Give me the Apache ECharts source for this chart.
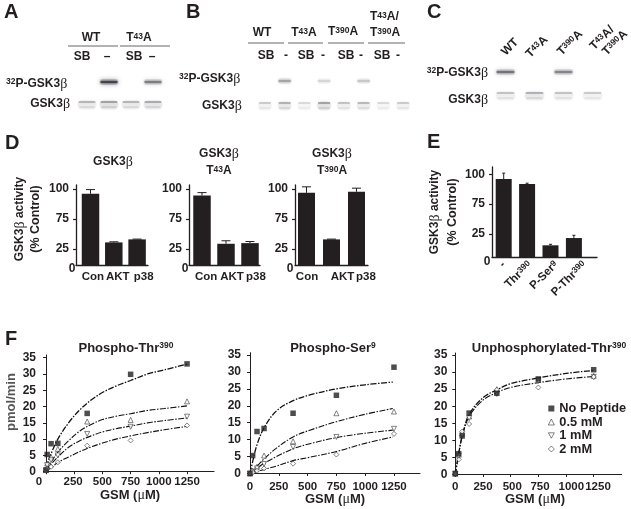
<!DOCTYPE html>
<html><head><meta charset="utf-8">
<style>html,body{margin:0;padding:0;background:#fff}#c{width:631px;height:509px}</style>
<script src="https://cdn.jsdelivr.net/npm/echarts@6/dist/echarts.min.js"></script>
</head><body><div id="c"></div>
<script>
// ---------- data ----------
const blotRows = ['32P-GSK3β', 'GSK3β'];
const blotALanes = ['WT SB', 'WT -', 'T43A SB', 'T43A -'];
const blotAPhospho = [0, 0.95, 0, 0.6];
const blotATotal = [0.4, 0.5, 0.4, 0.45];
const blotBLanes = ['WT SB', 'WT -', 'T43A SB', 'T43A -', 'T390A SB', 'T390A -', 'DM SB', 'DM -'];
const blotBPhospho = [0, 0.4, 0, 0.18, 0, 0.25, 0, 0];
const blotBTotal = [0.28, 0.42, 0.2, 0.5, 0.32, 0.38, 0.2, 0.28];
const blotCLanes = ['WT', 'T43A', 'T390A', 'T43A/T390A'];
const blotCPhospho = [0.65, 0, 0.55, 0];
const blotCTotal = [0.32, 0.42, 0.32, 0.28];

const activityCats = ['Con', 'AKT', 'p38'];
const gskValues = [96, 36, 41];
const gskErrors = [3.5, 1, 0.5];
const t43Values = [94.5, 33.7, 34.8];
const t43Errors = [2.5, 5, 2.7];
const t390Values = [96.8, 41, 97.7];
const t390Errors = [5, 0.5, 3];
const peptideCats = ['-', 'Thr|390', 'P-Ser|9', 'P-Thr|390'];
const peptideValues = [96, 91.8, 12.7, 20.6];
const peptideErrors = [5, 0.7, 1.1, 3];
const activityTicks = [25, 75, 100];

const fTicksY = [0, 5, 10, 15, 20, 25, 30, 35];
const fTicksX = [0, 250, 500, 750, 1000, 1250];
const seriesNames = ['No Peptide', '0.5 mM', '1 mM', '2 mM'];

const thrX = [0, 10, 45, 105, 365, 750, 1250];
const thrPts = [
  [0.5, 5.3, 8.6, 8.7, 17.9, 29.9, 33.1],
  [0.5, 2.5, 4.5, 7, 15.4, 15.9, 21.6],
  [0.4, 2, 3.5, 5, 11.6, 13.8, 16.9],
  [0.3, 0.9, 1.5, 2.9, 8, 9.6, 14.2]];
const thrCurveX = [0, 15, 45, 105, 200, 300, 400, 500, 620, 750, 900, 1050, 1250];
const thrCurves = [
  [0.5, 2.5, 5.5, 10, 15, 19, 22, 24.3, 26.3, 28, 30, 31.3, 33],
  [0.3, 1.3, 3, 6, 9.5, 12.5, 14.5, 16, 17, 17.8, 18.8, 19.4, 20.2],
  [0.2, 1, 2.3, 4.5, 7.5, 9.5, 11, 12.2, 13.2, 14, 15, 15.7, 16.5],
  [0.1, 0.5, 1.2, 2.8, 4.5, 6.2, 7.6, 8.8, 10, 11, 12, 12.9, 13.9]];

const serX = [0, 23, 61, 122, 374, 750, 1250];
const serPts = [
  [0, 5.3, 12.4, 13.3, 17.8, 23.1, 31.4],
  [0, 0.8, 2, 5.3, 9.5, 17.8, 18.3],
  [0, 0.5, 1.5, 2.8, 7.8, 10.8, 13.2],
  [0, 0.3, 0.8, 1.5, 2.9, 5.6, 11.7]];
const serCurveX = [0, 23, 61, 122, 230, 374, 520, 750, 1000, 1240];
const serCurves = [
  [0, 3.5, 8.5, 13.5, 18.5, 21.5, 23.2, 25, 26.2, 27],
  [0, 0.9, 2.2, 4.3, 7.5, 10.8, 12.8, 15.3, 17.5, 19.2],
  [0, 0.6, 1.5, 3, 5, 7.3, 8.8, 10.6, 11.9, 12.8],
  [0, 0.2, 0.6, 1.2, 2.2, 3.8, 4.8, 6.5, 8.9, 10.8]];

const unpX = [0, 31, 62, 125, 375, 750, 1250];
const unpPts = [
  [0.3, 6.1, 11.3, 18, 23.8, 28, 30.7],
  [0.2, 5.8, 12, 17, 25, 27.7, 28.9],
  [0.2, 5.5, 11.5, 16.5, 23.6, 27.5, 28.6],
  [0.2, 4.4, 12.6, 14.8, 24.8, 25.5, 28.6]];
const unpCurveX = [0, 31, 62, 125, 250, 375, 500, 750, 1000, 1250];
const unpCurves = [
  [0, 6.3, 11.3, 17.6, 22.5, 24.8, 26.6, 28.3, 29.6, 30.5],
  null, null,
  [0, 6, 11, 17, 21.8, 24, 25.5, 26.9, 28, 28.7]];

// ---------- helpers ----------
const INK = '#231f20', FONT = '"Liberation Sans", Arial, sans-serif';
const rich = {
  sup: {fontFamily: FONT, fontWeight: 'bold', fontSize: 8.5, color: INK, verticalAlign: 'top', lineHeight: 9},
  b: {fontFamily: '"Liberation Serif", serif', fontWeight: 'normal', fontSize: 14, color: '#333'}
};
const grids = [], xAxes = [], yAxes = [], series = [], graphic = [];

function txt(x, y, s, o) {
  o = o || {};
  graphic.push({type: 'text', x, y, rotation: o.rot || 0, silent: true, style: {
    text: s, align: o.align || 'center', verticalAlign: 'middle',
    fontFamily: FONT, fontWeight: 'bold', fontSize: o.size || 12, fill: o.fill || INK, rich
  }});
}
function rule(x1, x2, y) {
  graphic.push({type: 'line', silent: true, shape: {x1, y1: y, x2, y2: y}, style: {stroke: '#666', lineWidth: 1}});
}

function blot(left, top, width, height, lanes, up, low, bw) {
  const g = grids.length;
  grids.push({left, top, width, height, outerBoundsMode: 'none'});
  xAxes.push({gridIndex: g, type: 'category', data: lanes, show: false});
  yAxes.push({gridIndex: g, type: 'category', data: blotRows, show: false, inverse: true});
  const data = [];
  up.forEach((v, i) => v && data.push([i, 0, v]));
  low.forEach((v, i) => v && data.push([i, 1, v]));
  series.push({
    type: 'custom', xAxisIndex: g, yAxisIndex: g, data, clip: false, silent: true,
    renderItem(params, api) {
      const p = api.coord([api.value(0), api.value(1)]), v = api.value(2);
      const band = (dy, h, w, a, blur) => ({type: 'rect',
        shape: {x: p[0] - w / 2, y: p[1] + dy - h / 2, width: w, height: h, r: h / 2},
        style: {fill: `rgba(35,35,45,${a})`, shadowBlur: blur, shadowColor: `rgba(35,35,45,${Math.min(1, a * 1.1)})`}});
      return api.value(1) === 0
        ? {type: 'group', children: [band(0, 6, bw, v * 0.22, 7), band(0, 2.5, bw * 0.9, v * 0.8, 5)]}
        : {type: 'group', children: [band(1, 9, bw, v * 0.2, 7), band(-2, 2, bw * 0.9, v * 0.65, 4), band(3, 1.5, bw * 0.8, v * 0.3, 4)]};
    }
  });
}

// piecewise placement of the activity axes, whose labelled ticks are not evenly spaced
function activityPlot(pos) {
  const stops = [0].concat(activityTicks);
  return v => {
    for (let i = 1; i < stops.length; i++) {
      if (v <= stops[i] || i === stops.length - 1)
        return pos[i - 1] + (v - stops[i - 1]) / (stops[i] - stops[i - 1]) * (pos[i] - pos[i - 1]);
    }
  };
}

function barChart(c) {
  const g = grids.length, h = c.bottom - c.top;
  const plot = activityPlot(c.pos);
  grids.push({left: c.left, top: c.top, width: c.right - c.left, height: h, outerBoundsMode: 'none'});
  const labelAt = c.cats.map((_, i) => i + c.labelShift[i]);
  xAxes.push({gridIndex: g, type: 'value', min: (c.left - c.c0) / c.sp, max: (c.right - c.c0) / c.sp,
    splitLine: {show: false},
    axisLine: {show: true, onZero: false, lineStyle: {color: INK, width: 1.3}},
    axisTick: {show: false},
    axisLabel: {customValues: labelAt, margin: c.xMargin, rotate: c.rotate || 0, color: INK, fontFamily: FONT,
      fontWeight: 'bold', fontSize: 11.5, rich, hideOverlap: false,
      formatter: v => {
        const s = c.cats[labelAt.findIndex(a => Math.abs(a - v) < 1e-6)] || '';
        const parts = s.split('|');
        return parts[1] ? `${parts[0]}{sup|${parts[1]}}` : s;
      }}
  });
  const tv = activityTicks.map(plot);
  yAxes.push({gridIndex: g, type: 'value', min: 0, max: h, splitLine: {show: false},
    axisLine: {show: true, onZero: false, lineStyle: {color: INK, width: 1.3}},
    axisTick: {show: true, length: 3, customValues: tv, lineStyle: {color: INK, width: 1.2}},
    axisLabel: {customValues: tv, margin: 7, color: INK, fontFamily: FONT, fontWeight: 'bold', fontSize: 12,
      formatter: v => {
        const k = tv.findIndex(a => Math.abs(a - v) < 1e-6);
        return k >= 0 ? String(activityTicks[k]) : '';
      }}
  });
  series.push({type: 'bar', xAxisIndex: g, yAxisIndex: g, barWidth: c.bw, silent: true,
    itemStyle: {color: INK}, data: c.values.map((v, i) => [i, plot(v)])});
  series.push({type: 'custom', xAxisIndex: g, yAxisIndex: g, silent: true, clip: false, z: 3,
    data: c.values.map((v, i) => [i, plot(v), plot(v + c.errors[i])]),
    renderItem(params, api) {
      const a = api.coord([api.value(0), api.value(1)]), b = api.coord([api.value(0), api.value(2)]);
      const s = {stroke: INK, lineWidth: 1};
      return {type: 'group', children: [
        {type: 'line', shape: {x1: a[0], y1: a[1], x2: b[0], y2: b[1]}, style: s},
        {type: 'line', shape: {x1: a[0] - c.cap, y1: b[1], x2: a[0] + c.cap, y2: b[1]}, style: s}
      ]};
    }});
}

const downTri = 'path://M0,0L10,0L5,9Z';
const symbols = ['rect', 'triangle', downTri, 'diamond'];
function markerStyle(i) {
  return i === 0 ? {color: INK} : {color: '#fff', borderColor: INK, borderWidth: 0.7};
}
function kineticChart(c) {
  const g = grids.length, h = c.bottom - c.top;
  grids.push({left: c.left, top: c.top, width: c.right - c.left, height: h, outerBoundsMode: 'none'});
  const labelAt = fTicksX.map((t, i) => t + c.labelShift[i]);
  xAxes.push({gridIndex: g, type: 'value', min: 0, max: c.xMax, splitLine: {show: false},
    axisLine: {show: true, onZero: false, lineStyle: {color: INK, width: 1}},
    axisTick: {show: true, length: 2.5, customValues: fTicksX, lineStyle: {color: INK}},
    axisLabel: {customValues: labelAt, margin: c.xMargin, color: INK, fontFamily: FONT, fontWeight: 'bold', fontSize: 11.5,
      hideOverlap: false,
      formatter: v => {
        const k = labelAt.findIndex(a => Math.abs(a - v) < 1e-6);
        if (k < 0 || (k === 0 && c.hideZero)) return '';
        return String(fTicksX[k]);
      }}
  });
  yAxes.push({gridIndex: g, type: 'value', min: 0, max: c.yMax, splitLine: {show: false},
    axisLine: {show: true, onZero: false, lineStyle: {color: INK, width: 1}},
    axisTick: {show: true, length: 3, customValues: fTicksY, lineStyle: {color: INK}},
    axisLabel: {customValues: fTicksY, margin: c.yMargin, color: INK, fontFamily: FONT, fontWeight: 'bold', fontSize: 12,
      formatter: v => String(v)}
  });
  c.curves.forEach((cv, i) => {
    if (!cv) return;
    series.push({type: 'line', name: 'fit ' + seriesNames[i], xAxisIndex: g, yAxisIndex: g, smooth: 0.35,
      showSymbol: false, silent: true, z: 2,
      lineStyle: {color: '#111', width: i === 0 ? 1.3 : 1.1, type: [6, 1.5, 1.5, 1.5]},
      data: c.curveX.map((x, k) => [x, cv[k]])});
  });
  c.pts.forEach((p, i) => {
    series.push({type: 'scatter', name: seriesNames[i], xAxisIndex: g, yAxisIndex: g, silent: true, clip: false,
      z: i === 0 ? 5 : 3,
      symbol: symbols[i], symbolSize: i === 0 ? 5.5 : 5, itemStyle: markerStyle(i),
      data: c.x.map((x, k) => [x, p[k]])});
  });
}

// ---------- panels A-C ----------
blot(76, 71, 88, 44, blotALanes, blotAPhospho, blotATotal, 19);
blot(255, 69, 158, 48, blotBLanes, blotBPhospho, blotBTotal, 14);
blot(491, 60.5, 116, 46, blotCLanes, blotCPhospho, blotCTotal, 20);

// ---------- panel D, E ----------
const dPos = [0, 16, 46, 76];
barChart({left: 76, right: 148, c0: 90.5, sp: 23.3, top: 185, bottom: 265, pos: dPos, cats: activityCats,
  values: gskValues, errors: gskErrors, labelShift: [0.1, 0.17, 0.28], xMargin: 6, bw: 17.5, cap: 4.5});
barChart({left: 189, right: 260, c0: 202, sp: 24, top: 185, bottom: 265, pos: dPos, cats: activityCats,
  values: t43Values, errors: t43Errors, labelShift: [0.17, 0.25, 0.25], xMargin: 6, bw: 17.5, cap: 4.5});
barChart({left: 295, right: 368, c0: 306.5, sp: 25, top: 185, bottom: 265, pos: dPos, cats: activityCats,
  values: t390Values, errors: t390Errors, labelShift: [0.02, 0.44, 0.38], xMargin: 6, bw: 17, cap: 4.5});
barChart({left: 492, right: 597, c0: 503.7, sp: 23.4, top: 167, bottom: 257, pos: [0, 23, 53, 82.7], cats: peptideCats,
  values: peptideValues, errors: peptideErrors, labelShift: [0, 0.12, 0.25, 0.45], xMargin: 6, rotate: 45, bw: 16, cap: 1.5});

// ---------- panel F ----------
kineticChart({left: 46, right: 214, top: 355, bottom: 471.7, xMax: 1489, yMax: 35.83, hideZero: true,
  x: thrX, pts: thrPts, curveX: thrCurveX, curves: thrCurves, labelShift: [0, -10, 0, 0, 0, 0], xMargin: 4, yMargin: 10});
kineticChart({left: 250, right: 420, top: 352.7, bottom: 473.5, xMax: 1476, yMax: 35.68,
  x: serX, pts: serPts, curveX: serCurveX, curves: serCurves, labelShift: [0, 0, 0, 0, 0, 0], xMargin: 7, yMargin: 9});
kineticChart({left: 455.3, right: 621.7, top: 353, bottom: 474.5, xMax: 1503, yMax: 35.6,
  x: unpX, pts: unpPts, curveX: unpCurveX, curves: unpCurves, labelShift: [0, 0, 15, 15, 48, 39], xMargin: 6, yMargin: 8});

// ---------- texts ----------
[['A', 4, 12], ['B', 186, 12], ['C', 427, 12], ['D', 5, 143], ['E', 427, 142], ['F', 5, 339]]
  .forEach(l => txt(l[1], l[2], l[0], {size: 20, align: 'left'}));

// A
txt(91, 38, 'WT'); txt(139, 38, 'T{sup|43}A');
rule(68, 118, 46); rule(120, 170, 46);
txt(82, 57, 'SB'); txt(107, 57, '–'); txt(134, 57, 'SB'); txt(152, 57, '–');
txt(6, 84, '{sup|32}P-GSK3{b|β}', {align: 'left'}); txt(70, 104, 'GSK3{b|β}', {align: 'right'});
// B
txt(262, 33, 'WT'); txt(304, 33, 'T{sup|43}A'); txt(343, 32, 'T{sup|390}A');
txt(370, 17, 'T{sup|43}A/', {align: 'left'}); txt(370, 33, 'T{sup|390}A', {align: 'left'});
rule(248, 284, 43); rule(288, 323, 43); rule(328, 364, 43); rule(368, 405, 43);
[[266, 'SB'], [286, '-'], [306, 'SB'], [323, '-'], [346, 'SB'], [361, '-'], [382, 'SB'], [398, '-']]
  .forEach(s => txt(s[0], 56, s[1]));
txt(179, 79, '{sup|32}P-GSK3{b|β}', {align: 'left'}); txt(202, 106, 'GSK3{b|β}', {align: 'left'});
// C
const R45 = Math.PI / 4;
txt(510, 47, 'WT', {rot: R45}); txt(537, 47, 'T{sup|43}A', {rot: R45}); txt(570, 43, 'T{sup|390}A', {rot: R45});
txt(602, 38, 'T{sup|43}A/', {rot: R45}); txt(615, 43, 'T{sup|390}A', {rot: R45});
txt(488, 73, '{sup|32}P-GSK3{b|β}', {align: 'right'}); txt(488, 100, 'GSK3{b|β}', {align: 'right'});
// D
const R90 = Math.PI / 2;
txt(20, 219, 'GSK3{b|β} activity', {rot: R90}); txt(36, 219, '(% Control)', {rot: R90, size: 12.5});
txt(113, 162, 'GSK3{b|β}');
txt(219, 154, 'GSK3{b|β}'); txt(219, 171, 'T{sup|43}A');
txt(332, 154, 'GSK3{b|β}'); txt(332, 171, 'T{sup|390}A');
txt(72, 269, '0'); txt(185, 269, '0'); txt(290, 269, '0');
// E
txt(435, 212, 'GSK3{b|β} activity', {rot: R90}); txt(453, 212, '(% Control)', {rot: R90, size: 12.5});
txt(487, 262, '0');
// F
txt(11, 402, 'pmol/min', {rot: R90, fill: '#555', size: 13});
txt(126, 348, 'Phospho-Thr{sup|390}', {size: 13}); txt(333, 348, 'Phospho-Ser{sup|9}', {size: 13});
txt(549, 348, 'Unphosphorylated-Thr{sup|390}', {size: 13});
txt(39, 482, '0', {size: 11.5});
txt(130, 495, 'GSM ({b|μ}M)', {size: 13}); txt(335, 499, 'GSM ({b|μ}M)', {size: 13}); txt(535, 499, 'GSM ({b|μ}M)', {size: 13});

// ---------- chart ----------
const chart = echarts.init(document.getElementById('c'), null, {renderer: 'canvas'});
chart.setOption({
  animation: false, backgroundColor: '#fff',
  grid: grids, xAxis: xAxes, yAxis: yAxes, series, graphic,
  legend: {
    left: 543, top: 397, orient: 'vertical', itemWidth: 6, itemHeight: 6, itemGap: 0.5, selectedMode: false,
    textStyle: {fontFamily: FONT, fontWeight: 'bold', fontSize: 12.8, lineHeight: 12, color: INK},
    data: seriesNames.map((name, i) => ({name, icon: symbols[i], itemStyle: markerStyle(i)}))
  }
});
</script></body></html>
